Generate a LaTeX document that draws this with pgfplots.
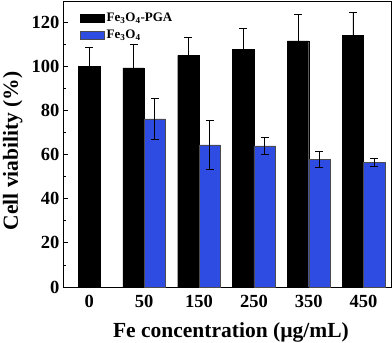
\documentclass[border=0pt]{standalone}
\usepackage{fontspec}
\setmainfont{Liberation Serif}
\usepackage{pgfplots}
\pgfplotsset{compat=1.18}
\definecolor{feblue}{RGB}{46,76,226}

\begin{document}
\begin{tikzpicture}
  \begin{axis}[
    name=ax,
    scale only axis,
    width=328pt, height=286pt,
    ybar, bar width=21.3pt,
    xmin=-0.48, xmax=5.5,
    ymin=0, ymax=129.5,
    xtick={0,...,5},
    xticklabels={0,50,150,250,350,450},
    major x tick style={draw=none},
    ytick={0,20,...,120},
    minor y tick num=1,
    tick align=inside,
    ytick pos=left,
    major tick length=5pt,
    minor tick length=3pt,
    axis line style={line width=0.8pt},
    tick style={line width=0.8pt, black},
    /pgf/number format/assume math mode=true,
    tick label style={font=\bfseries\fontsize{18.5}{20}\selectfont},
    xticklabel style={yshift=-5pt},
    label style={font=\bfseries\fontsize{21.5}{24}\selectfont},
    xlabel={Fe concentration (µg/mL)},
    ylabel={Cell viability (\%)},
    xlabel style={at={(axis description cs:0.512,-0.160)}, anchor=center},
    ylabel style={at={(axis description cs:-0.153,0.476)}, anchor=center, inner sep=0pt},
    legend style={at={(0.052,0.965)}, anchor=north west, draw=none, fill=none,
      inner sep=0pt, row sep=3pt,
      font=\bfseries\fontsize{13}{14}\selectfont},
    legend cell align=left,
    legend image code/.code={\draw[#1] (0pt,-4pt) rectangle (24pt,4pt);},
    error bars/y dir=both, error bars/y explicit,
    error bars/error mark options={rotate=90, mark size=4pt, line width=0.8pt, black},
    error bars/error bar style={line width=0.8pt, black},
  ]
    % control group, centred on its tick
    \addplot[forget plot, bar shift=0pt, fill=black, draw=black] coordinates {
      (0,100.0) +- (0,8.4)
    };
    \addplot[bar shift=-10.65pt, fill=black, draw=black] coordinates {
      (1,99.2)  +- (0,10.8)
      (2,104.9) +- (0,8.0)
      (3,107.5) +- (0,9.5)
      (4,111.4) +- (0,12.2)
      (5,114.0) +- (0,10.5)
    };
    \addplot[bar shift=10.65pt, fill=feblue, draw=black!70, line width=0.4pt] coordinates {
      (1,76.1) +- (0,9.4)
      (2,64.4) +- (0,11.2)
      (3,63.9) +- (0,3.9)
      (4,57.7) +- (0,3.6)
      (5,56.5) +- (0,1.7)
    };
    \legend{Fe\textsubscript{3}O\textsubscript{4}-PGA, Fe\textsubscript{3}O\textsubscript{4}}
  \end{axis}
  \pgfresetboundingbox
  \path ([xshift=-63pt,yshift=-55pt]ax.south west) rectangle ([xshift=1pt,yshift=1pt]ax.north east);
\end{tikzpicture}
\end{document}
